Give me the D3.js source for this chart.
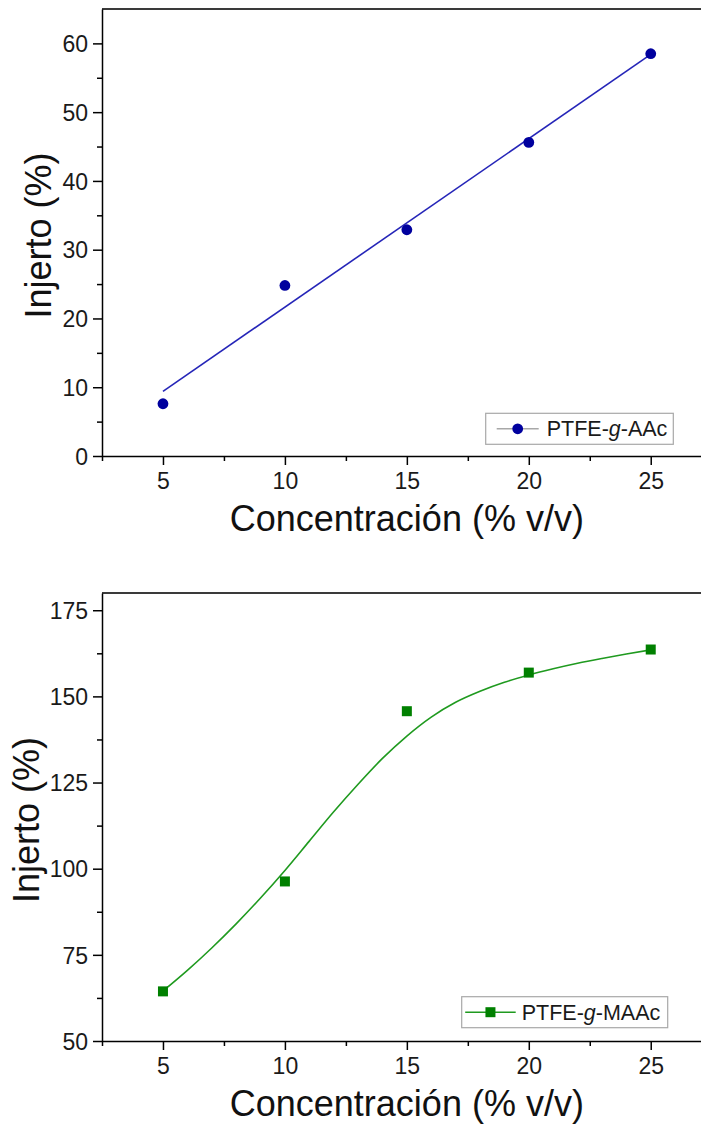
<!DOCTYPE html>
<meta charset="utf-8">
<head>
<style>
  body { margin: 0; background: #fff; }
  svg { display: block; font-family: 'Liberation Sans', Arial, sans-serif; }
  .axis path, .axis line { stroke: #000; stroke-width: 1.5; }
  .axis text { font-size: 23px; fill: #1a1a1a; }
  .title { font-size: 36px; fill: #111; }
  .legend text { font-size: 21.5px; fill: #1a1a1a; }
</style>
</head>
<body>
<svg id="chart" width="701" height="1131"></svg>

<script src="https://d3js.org/d3.v7.min.js"></script>
<script>

// concentration (% v/v)
var conc = [5, 10, 15, 20, 25];

// top panel: PTFE-g-AAc, points + linear fit
var aac = [7.6, 24.8, 32.9, 45.6, 58.5];
var aacFitX = [5, 25];
var aacFitY = [9.4, 58.4];

// bottom panel: PTFE-g-MAAc, points + smooth fit curve
var maac = [64.4, 96.3, 145.7, 156.9, 163.6];
var maacFitX = [5, 6, 7, 8, 9, 10, 11, 12, 13, 14, 15, 16, 17, 18, 19, 20, 21, 22, 23, 24, 25];
var maacFitY = [64.5, 70.5, 77, 84, 91.5, 99.5, 108, 116.5, 124.5, 132, 138.5, 144, 148.3, 151.5, 154.1, 156.2, 158, 159.6, 161, 162.3, 163.5];

var xTicks = [5, 10, 15, 20, 25];
var xMinor = [2.5, 7.5, 12.5, 17.5, 22.5, 27.5];
var yTicksTop = [0, 10, 20, 30, 40, 50, 60];
var yMinorTop = [5, 15, 25, 35, 45, 55];
var yTicksBot = [50, 75, 100, 125, 150, 175];
var yMinorBot = [62.5, 87.5, 112.5, 137.5, 162.5];

var svg = d3.select("#chart");

var left = 102, right = 711.7;

function panel(opt) {
  var x = d3.scaleLinear().domain([2.5, 27.5]).range([left, right]);
  var y = d3.scaleLinear().domain(opt.ydom).range([opt.bottom, opt.top]);
  var g = svg.append("g");

  // frame top line
  g.append("line")
    .attr("x1", left).attr("x2", 701)
    .attr("y1", opt.top).attr("y2", opt.top)
    .style("stroke", "#3a3a3a").style("stroke-width", 2);

  // minor ticks
  g.append("g").attr("class", "axis")
    .attr("transform", "translate(0," + opt.bottom + ")")
    .call(d3.axisBottom(x).tickValues(xMinor).tickSize(5).tickFormat(""))
    .select(".domain").remove();
  g.append("g").attr("class", "axis")
    .attr("transform", "translate(" + left + ",0)")
    .call(d3.axisLeft(y).tickValues(opt.yMinor).tickSize(5).tickFormat(""))
    .select(".domain").remove();

  // major axes
  g.append("g").attr("class", "axis")
    .attr("transform", "translate(0," + opt.bottom + ")")
    .call(d3.axisBottom(x).tickValues(xTicks).tickSize(9).tickSizeOuter(0).tickPadding(8));
  g.append("g").attr("class", "axis")
    .attr("transform", "translate(" + left + ",0)")
    .call(d3.axisLeft(y).tickValues(opt.yTicks).tickSize(9).tickSizeOuter(0).tickPadding(5))
    .selectAll("text").attr("dy", "0.36em");

  // titles
  g.append("text").attr("class", "title")
    .attr("x", (left + right) / 2).attr("y", opt.bottom + 75)
    .attr("text-anchor", "middle")
    .text("Concentración (% v/v)");
  g.append("text").attr("class", "title")
    .attr("transform", "translate(" + opt.ytx + "," + ((opt.top + opt.bottom) / 2 + 3) + ") rotate(-90)")
    .attr("text-anchor", "middle")
    .text("Injerto (%)");

  // fit
  var line = d3.line()
    .x(function(d) { return x(d[0]); })
    .y(function(d) { return y(d[1]); })
    .curve(opt.curve);
  g.append("path")
    .datum(d3.zip(opt.fitX, opt.fitY))
    .attr("d", line)
    .style("fill", "none")
    .style("stroke", opt.lineColor)
    .style("stroke-width", 1.6);

  // points
  var pts = d3.zip(conc, opt.vals);
  if (opt.shape === "circle") {
    g.selectAll(".pt").data(pts).enter().append("circle")
      .attr("cx", function(d) { return x(d[0]); })
      .attr("cy", function(d) { return y(d[1]); })
      .attr("r", 5.4)
      .style("fill", opt.markColor);
  } else {
    g.selectAll(".pt").data(pts).enter().append("rect")
      .attr("x", function(d) { return x(d[0]) - 5; })
      .attr("y", function(d) { return y(d[1]) - 5; })
      .attr("width", 10).attr("height", 10)
      .style("fill", opt.markColor);
  }

  // legend
  var L = opt.legend;
  var lg = g.append("g").attr("class", "legend");
  lg.append("rect")
    .attr("x", L.x).attr("y", L.y).attr("width", L.w).attr("height", 31)
    .style("fill", "#fff").style("stroke", "#a8a8a8").style("stroke-width", 1.2);
  lg.append("line")
    .attr("x1", L.x + L.l1).attr("x2", L.x + L.l2)
    .attr("y1", L.y + 15.5).attr("y2", L.y + 15.5)
    .style("stroke", L.lineColor).style("stroke-width", 1.6);
  var mx = L.x + (L.l1 + L.l2) / 2;
  if (opt.shape === "circle") {
    lg.append("circle").attr("cx", mx).attr("cy", L.y + 15.5).attr("r", 5.4).style("fill", opt.markColor);
  } else {
    lg.append("rect").attr("x", mx - 5).attr("y", L.y + 10.5).attr("width", 10).attr("height", 10).style("fill", opt.markColor);
  }
  var t = lg.append("text").attr("x", L.x + L.tx).attr("y", L.y + 23);
  t.append("tspan").text("PTFE-");
  t.append("tspan").style("font-style", "italic").text("g");
  t.append("tspan").text("-" + opt.name);
}

panel({
  top: 9, bottom: 456, ydom: [0, 65],
  yTicks: yTicksTop, yMinor: yMinorTop, ytx: 51,
  vals: aac, fitX: aacFitX, fitY: aacFitY,
  curve: d3.curveLinear, shape: "circle",
  markColor: "#00009e", lineColor: "#2525b8",
  name: "AAc",
  legend: { x: 485.7, y: 413.3, w: 187.6, l1: 11, l2: 53, tx: 61, lineColor: "#a8a8a8" }
});

panel({
  top: 593, bottom: 1041, ydom: [50, 180],
  yTicks: yTicksBot, yMinor: yMinorBot, ytx: 39,
  vals: maac, fitX: maacFitX, fitY: maacFitY,
  curve: d3.curveMonotoneX, shape: "square",
  markColor: "#008000", lineColor: "#1f9a1f",
  name: "MAAc",
  legend: { x: 461.7, y: 996.7, w: 206, l1: 3.5, l2: 54, tx: 60, lineColor: "#1f9a1f" }
});

</script>
</body>
